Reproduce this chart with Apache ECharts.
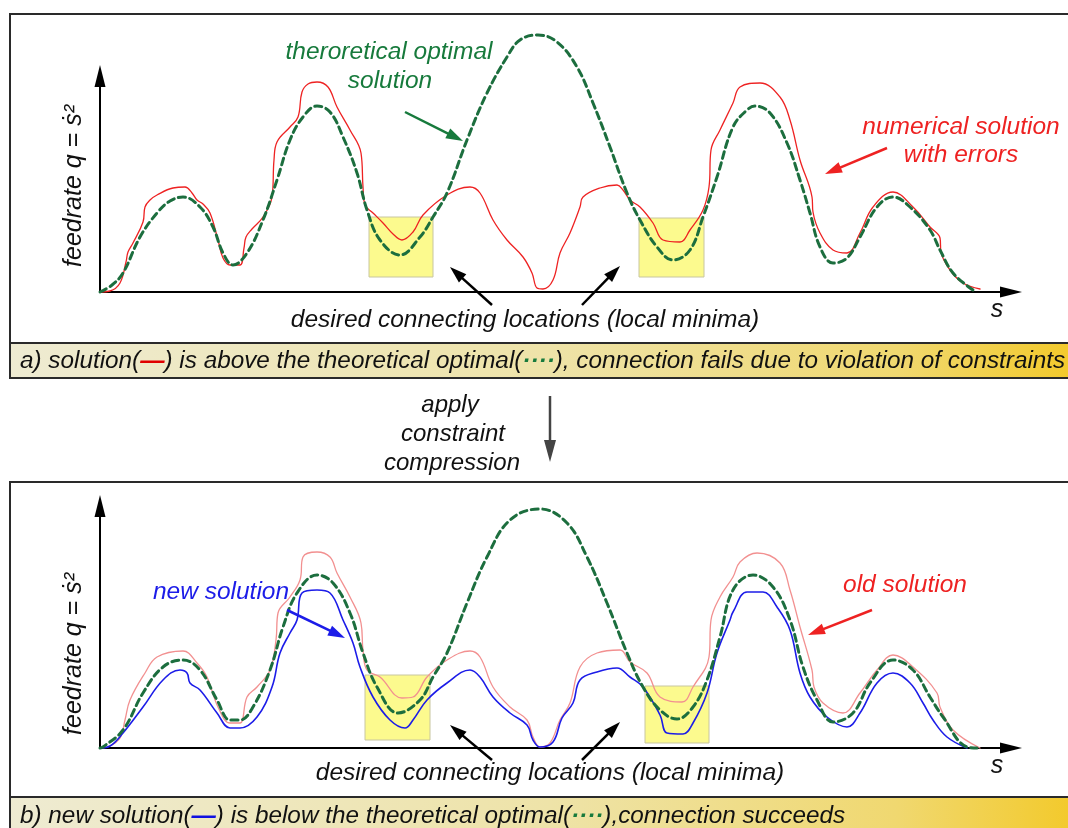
<!DOCTYPE html>
<html>
<head>
<meta charset="utf-8">
<script src="https://cdn.jsdelivr.net/npm/echarts@6/dist/echarts.min.js"></script>
<style>
  html, body { margin: 0; padding: 0; background: #fff; }
  #chart { width: 1068px; height: 828px; }
</style>
</head>
<body>
<div id="chart"></div>
<script>
// Feedrate profiles q = ṡ² along the path parameter s, as [s, q] pairs.

// (a) theoretical optimal profile
const optimalA = [[0,0],[12,7],[23,19],[40,55],[57,79],[70,91],[83,95],[100,85],[113,65],[123,39],[133,27],[147,39],[163,72],[177,112],[190,152],[203,175],[217,186],[230,180],[243,155],[257,119],[267,82],[280,52],[300,37],[320,55],[333,75],[347,99],[367,152],[387,199],[407,235],[420,252],[438,257],[457,250],[477,225],[493,189],[510,145],[527,99],[540,72],[557,45],[573,32],[590,42],[603,75],[617,115],[633,165],[647,182],[655,186],[670,179],[687,149],[700,112],[710,79],[720,45],[733,29],[747,34],[760,55],[777,85],[793,95],[810,85],[830,62],[840,42],[853,19],[870,4],[875,1]];

// (a) numerical solution with errors
const numericA = [[0,0],[10,1],[20,9],[26,30],[28,40],[33,49],[43,70],[45,85],[50,92],[57,97],[73,104],[85,105],[92,99],[97,92],[103,88],[110,79],[118,52],[123,34],[130,27],[140,27],[144,44],[146,55],[152,63],[163,75],[172,95],[174,132],[177,150],[190,165],[198,175],[202,200],[208,208],[217,210],[228,205],[237,185],[250,162],[261,139],[263,105],[265,87],[273,79],[283,69],[293,58],[302,52],[313,60],[323,77],[347,97],[370,105],[380,99],[393,72],[407,52],[423,35],[432,19],[437,4],[443,3],[453,12],[460,39],[470,59],[480,85],[483,95],[500,104],[517,107],[523,102],[530,92],[540,85],[553,69],[563,52],[580,50],[590,62],[603,82],[609,105],[611,142],[620,162],[633,189],[640,205],[660,209],[680,195],[690,172],[700,132],[712,95],[713,80],[720,59],[733,42],[747,39],[760,59],[773,85],[793,100],[813,85],[830,65],[840,54],[841,40],[850,22],[863,9],[880,3]];

// (a) desired connecting regions: [s0, q0, s1, q1]
const regionsA = [[269,15,333,75],[539,15,604,74]];

// (b) theoretical optimal profile
const optimalB = [[0,0],[3,1],[23,18],[43,55],[63,81],[83,88],[100,78],[117,48],[130,28],[140,28],[153,41],[170,78],[183,121],[197,155],[217,173],[233,165],[250,135],[263,95],[277,61],[298,35],[320,48],[333,71],[347,95],[367,145],[387,191],[410,228],[440,239],[467,225],[487,191],[507,145],[527,95],[543,61],[560,38],[577,29],[593,41],[607,68],[620,111],[633,158],[653,173],[673,161],[690,128],[703,81],[717,48],[733,26],[753,35],[770,65],[793,88],[813,78],[830,51],[843,31],[867,1],[877,0]];

// (b) old solution
const oldB = [[0,0],[10,2],[20,10],[25,28],[30,48],[45,75],[57,91],[83,97],[97,85],[107,71],[118,41],[130,25],[140,25],[147,51],[157,61],[170,78],[176,108],[178,135],[190,151],[200,168],[203,191],[217,196],[230,191],[237,175],[250,151],[261,125],[263,98],[267,78],[280,71],[302,50],[313,51],[327,71],[347,88],[370,97],[380,91],[393,61],[410,41],[427,28],[433,11],[440,1],[450,5],[460,28],[470,45],[480,81],[497,95],[520,98],[530,86],[547,75],[560,51],[582,46],[593,61],[609,91],[611,128],[620,151],[633,171],[640,186],[657,195],[680,185],[690,158],[700,121],[712,78],[714,61],[723,45],[743,35],[760,55],[777,78],[793,93],[813,81],[837,55],[840,41],[853,18],[880,0]];

// (b) new solution after constraint compression
const newB = [[0,0],[10,2],[23,15],[43,41],[63,68],[80,78],[87,75],[90,65],[100,58],[117,35],[130,20],[140,20],[157,31],[172,61],[180,95],[190,115],[197,128],[202,155],[217,158],[230,155],[243,128],[253,105],[260,81],[273,51],[290,28],[305,20],[313,28],[327,48],[347,65],[370,78],[380,71],[393,51],[410,35],[427,23],[433,8],[440,1],[453,6],[462,30],[473,45],[480,68],[497,76],[517,80],[530,71],[543,61],[560,33],[567,15],[583,14],[593,25],[607,55],[617,95],[630,128],[633,136],[647,156],[663,156],[677,141],[690,118],[700,75],[710,51],[727,31],[747,21],[760,35],[777,65],[793,75],[810,65],[823,45],[833,28],[847,11],[867,0]];

// (b) desired connecting regions
const regionsB = [[265,8,330,73],[545,5,609,62]];

const FONT = '"Liberation Sans", Arial, Helvetica, sans-serif';
const GREEN = '#1c6e3e';
const GREEN_TEXT = '#177a3c';
const RED = '#ee2222';
const RED_LIGHT = '#f29090';
const BLUE = '#1c1ce8';
const LABEL_SIZE = 24.5;
const CAPTION_SIZE = 24.3;

const chart = echarts.init(document.getElementById('chart'), null, { renderer: 'canvas' });

function axisX(gridIndex) {
  return {
    gridIndex, type: 'value', min: 0, max: 911,
    axisLine: { onZero: false, symbol: ['none', 'triangle'], symbolSize: [11, 22], lineStyle: { color: '#000', width: 2 } },
    axisTick: { show: false }, axisLabel: { show: false }, splitLine: { show: false }
  };
}
function axisY(gridIndex, max) {
  return {
    gridIndex, type: 'value', min: 0, max,
    axisLine: { onZero: false, symbol: ['none', 'triangle'], symbolSize: [11, 22], lineStyle: { color: '#000', width: 2 } },
    axisTick: { show: false }, axisLabel: { show: false }, splitLine: { show: false }
  };
}
function regionSeries(idx, data) {
  return {
    type: 'custom', xAxisIndex: idx, yAxisIndex: idx, z: 1, silent: true,
    encode: { x: [0, 2], y: [1, 3] },
    data,
    renderItem(params, api) {
      const a = api.coord([api.value(0), api.value(3)]);
      const b = api.coord([api.value(2), api.value(1)]);
      return {
        type: 'rect',
        shape: { x: a[0], y: a[1], width: b[0] - a[0], height: b[1] - a[1] },
        style: { fill: '#fcfa8e', stroke: '#c8c6a0', lineWidth: 1 }
      };
    }
  };
}
function curve(idx, data, color, width, dash, z) {
  return {
    type: 'line', xAxisIndex: idx, yAxisIndex: idx, data, z,
    smooth: 0.4, showSymbol: false, symbol: 'none', clip: false, silent: true,
    lineStyle: { color, width, type: dash || 'solid', cap: 'round', join: 'round' }
  };
}
function arrow(x1, y1, x2, y2, color, width, hl, hw) {
  const dx = x2 - x1, dy = y2 - y1, L = Math.hypot(dx, dy);
  const ux = dx / L, uy = dy / L;
  const bx = x2 - ux * hl, by = y2 - uy * hl;
  const px = -uy * hw / 2, py = ux * hw / 2;
  return [
    { type: 'line', z: 20, shape: { x1, y1, x2: bx + ux * 2, y2: by + uy * 2 }, style: { stroke: color, lineWidth: width } },
    { type: 'polygon', z: 20, shape: { points: [[x2, y2], [bx + px, by + py], [bx - px, by - py]] }, style: { fill: color } }
  ];
}
function label(text, x, y, color, size, rot) {
  return {
    type: 'text', x, y, z: 20, rotation: rot || 0,
    style: { text, fill: color, fontSize: size, fontStyle: 'italic', fontFamily: FONT, align: 'center', verticalAlign: 'middle' }
  };
}
// parts: [text, colour, bold?]
function caption(parts, x, y) {
  const rich = {};
  const base = { fontSize: CAPTION_SIZE, fontStyle: 'italic', fontFamily: FONT };
  let text = '';
  parts.forEach((p, i) => {
    rich['p' + i] = Object.assign({}, base, { fill: p[1], fontWeight: p[2] ? 'bold' : 'normal' });
    text += '{p' + i + '|' + p[0] + '}';
  });
  return {
    type: 'text', x, y, z: 20,
    style: Object.assign({ text, rich, fill: '#111', align: 'left', verticalAlign: 'middle' }, base)
  };
}
function band(y, h) {
  return {
    type: 'rect', z: 5, shape: { x: 10, y, width: 1080, height: h },
    style: {
      stroke: '#2a2a2a', lineWidth: 2,
      fill: new echarts.graphic.LinearGradient(0, 0, 1, 0, [
        { offset: 0, color: '#eeebd2' },
        { offset: 0.5, color: '#eee3a8' },
        { offset: 0.82, color: '#f0d870' },
        { offset: 1, color: '#f3c824' }
      ])
    }
  };
}

const graphics = [
  // panel frames
  { type: 'rect', z: 4, shape: { x: 10, y: 14, width: 1080, height: 364 }, style: { fill: 'none', stroke: '#2a2a2a', lineWidth: 2 } },
  band(343, 35),
  { type: 'rect', z: 4, shape: { x: 10, y: 482, width: 1080, height: 380 }, style: { fill: 'none', stroke: '#2a2a2a', lineWidth: 2 } },
  band(797, 60),

  // panel (a) annotations
  label('theroretical optimal', 389, 52, GREEN_TEXT, LABEL_SIZE),
  label('solution', 390, 81, GREEN_TEXT, LABEL_SIZE),
  ...arrow(405, 112, 463, 141, GREEN_TEXT, 2.5, 17, 11),
  label('numerical solution', 961, 127, RED, LABEL_SIZE),
  label('with errors', 961, 155, RED, LABEL_SIZE),
  ...arrow(887, 148, 825, 174, RED, 2.5, 17, 11),
  ...arrow(492, 305, 450, 267, '#000', 2.5, 17, 11),
  ...arrow(582, 305, 620, 266, '#000', 2.5, 17, 11),
  label('desired connecting locations (local minima)', 525, 320, '#111', LABEL_SIZE),
  label('s', 997, 310, '#111', 25),
  label('feedrate q = ṡ²', 74, 186, '#111', 25, Math.PI / 2),
  caption([
    ['a) solution(', '#111'], ['—', '#e00000', true], [') is above the theoretical optimal(', '#111'],
    ['····', GREEN_TEXT, true], ['), connection fails due to violation of constraints', '#111']
  ], 20, 361),

  // transition between panels
  label('apply', 450, 405, '#111', 24),
  label('constraint', 453, 434, '#111', 24),
  label('compression', 452, 463, '#111', 24),
  ...arrow(550, 396, 550, 462, '#444', 2.5, 22, 12),

  // panel (b) annotations
  label('new solution', 221, 592, BLUE, LABEL_SIZE),
  ...arrow(287, 610, 345, 638, BLUE, 2.5, 17, 11),
  label('old solution', 905, 585, RED, LABEL_SIZE),
  ...arrow(872, 610, 808, 635, RED, 2.5, 17, 11),
  ...arrow(492, 760, 450, 725, '#000', 2.5, 17, 11),
  ...arrow(582, 760, 620, 722, '#000', 2.5, 17, 11),
  label('desired connecting locations (local minima)', 550, 773, '#111', LABEL_SIZE),
  label('s', 997, 766, '#111', 25),
  label('feedrate q = ṡ²', 74, 654, '#111', 25, Math.PI / 2),
  caption([
    ['b) new solution(', '#111'], ['—', '#1010e0', true], [') is below the theoretical optimal(', '#111'],
    ['····', GREEN_TEXT, true], ['),connection succeeds', '#111']
  ], 20, 816)
];

chart.setOption({
  backgroundColor: '#ffffff',
  animation: false,
  grid: [
    { left: 100, right: 57, top: 76, bottom: 536 },
    { left: 100, right: 57, top: 506, bottom: 80 }
  ],
  xAxis: [axisX(0), axisX(1)],
  yAxis: [axisY(0, 216), axisY(1, 242)],
  series: [
    regionSeries(0, regionsA),
    curve(0, numericA, RED, 1.3, null, 3),
    curve(0, optimalA, GREEN, 3, [7, 4.5], 4),
    regionSeries(1, regionsB),
    curve(1, oldB, RED_LIGHT, 1.3, null, 3),
    curve(1, newB, BLUE, 1.6, null, 3),
    curve(1, optimalB, GREEN, 3, [7, 4.5], 4)
  ],
  graphic: { elements: graphics }
});
</script>
</body>
</html>
